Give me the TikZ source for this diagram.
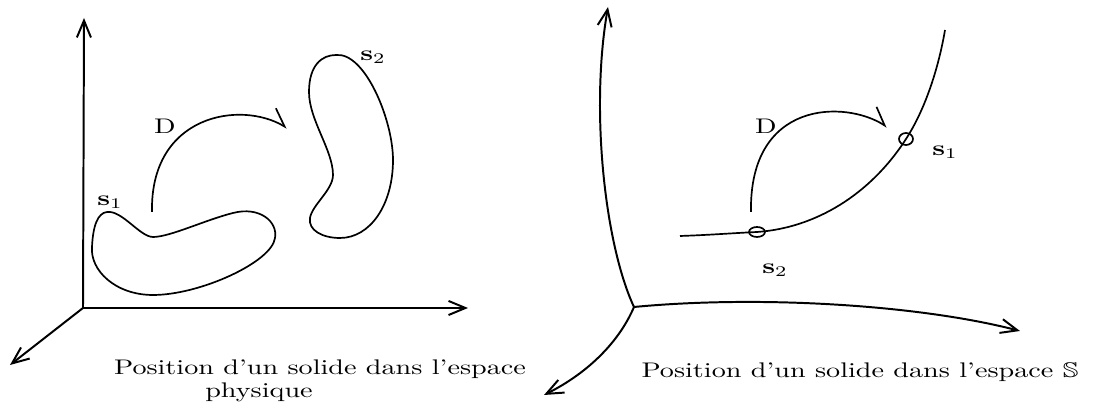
\documentclass[tikz,border=0pt]{standalone}
\usepackage{amsmath, amssymb}
\usetikzlibrary{arrows.meta, positioning, calc}

\begin{document}
\begin{tikzpicture}[
        x=0.355pt, y=-0.355pt,
        axis/.style={-{Straight Barb[length=6pt, width=5pt]}, line width=0.7pt},
        move/.style={-{Straight Barb[harpoon, length=6pt, width=8pt]}, line width=0.6pt},
        outline/.style={line width=0.6pt},
        tag/.style={inner sep=0pt, yscale=0.75},
        caption/.style={inner sep=0pt, anchor=base, yscale=0.75}
    ]
        \useasboundingbox (0,0) rectangle (1097,410);

        % espace physique
        \coordinate (o1) at (83,308);
        \coordinate (x1) at (468,308);
        \coordinate (y1) at (84,18);
        \coordinate (z1) at (10,365);
        \draw[axis] (o1) -- (y1);
        \draw[axis] (o1) -- (x1);
        \draw[axis] (o1) -- (z1);

        % solide s1
        \draw[outline] (107,212) .. controls (122,210) and (140,237) .. (153,237)
            .. controls (170,237) and (205,220) .. (233,213)
            .. controls (260,206) and (278,222) .. (275,238)
            .. controls (272,262) and (200,295) .. (153,295)
            .. controls (115,295) and (90,270) .. (92,247)
            .. controls (93,225) and (98,213) .. cycle;
        % solide s2
        \draw[outline] (336,55) .. controls (365,52) and (393,120) .. (393,160)
            .. controls (393,205) and (370,238) .. (340,238)
            .. controls (322,238) and (308,230) .. (310,218)
            .. controls (312,205) and (333,190) .. (333,175)
            .. controls (333,150) and (309,120) .. (309,92)
            .. controls (309,65) and (322,55) .. cycle;

        \node[tag] (s1a) at (110,202) {$\mathbf{s}_1$};
        \node[tag] (s2a) at (373,57) {$\mathbf{s}_2$};
        \node[tag] (da) at (165,126) {D};

        \coordinate (d1s) at (152,212);
        \coordinate (d1e) at (287,128);
        \draw[move] (d1s) .. controls (150,115) and (240,100) .. (d1e);

        \node[caption] (cap1) at (320,375) {Position d'un solide dans l'espace};
        \node[caption] (cap2) at (259,398) {physique};

        % espace S
        \coordinate (o2) at (634,307);
        \coordinate (x2) at (1020,331);
        \coordinate (y2) at (608,7);
        \coordinate (z2) at (544,395);
        \draw[axis] (o2) .. controls (605,245) and (590,110) .. (y2);
        \draw[axis] (o2) .. controls (760,295) and (920,305) .. (x2);
        \draw[axis] (o2) .. controls (620,340) and (590,372) .. (z2);

        \coordinate (c0) at (680,236);
        \coordinate (p2) at (757,232);
        \coordinate (p1) at (906,139);
        \coordinate (c3) at (945,30);
        \draw[outline] (c0) .. controls (710,235) and (735,233) .. (p2)
            .. controls (815,228) and (870,195) .. (p1)
            .. controls (928,105) and (940,60) .. (c3);
        \draw[outline] (p2) ellipse [x radius=8, y radius=5];
        \draw[outline] (p1) ellipse [x radius=7, y radius=6];

        \node[tag] (s1b) at (945,152) {$\mathbf{s}_1$};
        \node[tag] (s2b) at (775,270) {$\mathbf{s}_2$};
        \node[tag] (db) at (766,126) {D};

        \coordinate (d2s) at (751,212);
        \coordinate (d2e) at (887,127);
        \draw[move] (d2s) .. controls (749,100) and (845,100) .. (d2e);

        \node[caption] (cap3) at (860,378) {Position d'un solide dans l'espace $\mathbb{S}$};
    \end{tikzpicture}
\end{document}
